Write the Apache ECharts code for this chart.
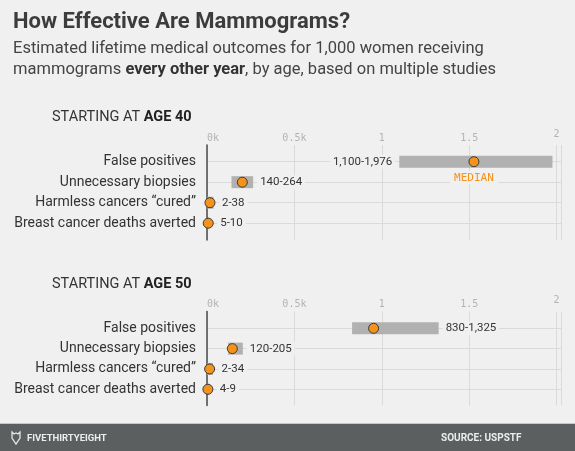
<!DOCTYPE html>
<html>
<head>
<meta charset="utf-8">
<script src="https://cdn.jsdelivr.net/npm/echarts@6/dist/echarts.min.js"></script>
<style>
  html, body { margin: 0; padding: 0; background: #f0f0f0; }
  #chart { width: 575px; height: 451px; }
</style>
</head>
<body>
<div id="chart"></div>
<script>
// data (women per 1,000)
const categories = ['False positives', 'Unnecessary biopsies', 'Harmless cancers \u201ccured\u201d', 'Breast cancer deaths averted'];
const age40Low = [1100, 140, 2, 5];
const age40High = [1976, 264, 38, 10];
const age40Median = [1527, 202, 17, 7];
const age50Low = [830, 120, 2, 4];
const age50High = [1325, 205, 34, 9];
const age50Median = [953, 145, 15, 5];
const tickLabels = { 0: '0k', 500: '0.5k', 1000: '1', 1500: '1.5', 2000: '2' };

const chart = echarts.init(document.getElementById('chart'));

const ORANGE = '#f5921b';
const BAR = '#b1b1b1';
const GRID = '#dadada';
const LEFT = 207;
const XMAX = 2025;
const WIDTH = 354; // px for 0..XMAX
const PX = WIDTH / XMAX;
const SANS = 'Roboto, "Noto Sans", sans-serif';
const MONO = '"DejaVu Sans Mono", monospace';

function fmt(v) { return v.toLocaleString('en-US'); }

// label sits right of whichever ends later: the bar or the dot
function gap(lo, hi, mid) {
  return Math.max(hi * PX, mid * PX + 5) - hi * PX + 4;
}

function panel(idx, low, high, median, leftLabelIdx, medianIdx) {
  const d = idx * 2 + 1;
  return [
    {
      type: 'bar', xAxisIndex: d, yAxisIndex: d, stack: 'r' + idx,
      data: low, itemStyle: { color: 'transparent' }, barWidth: 12, silent: true
    },
    {
      type: 'bar', xAxisIndex: d, yAxisIndex: d, stack: 'r' + idx, barWidth: 12,
      itemStyle: { color: BAR },
      data: low.map((v, i) => {
        const item = { value: high[i] - v };
        item.label = {
          show: true,
          position: i === leftLabelIdx ? 'left' : 'right',
          distance: i === leftLabelIdx ? 4 : gap(v, high[i], median[i]),
          formatter: fmt(v) + '-' + fmt(high[i]),
          color: '#333', fontFamily: SANS, fontSize: 11.5,
          backgroundColor: '#f0f0f0', padding: [1, 3]
        };
        return item;
      })
    },
    {
      type: 'scatter', xAxisIndex: d, yAxisIndex: d, symbolSize: 10, z: 5,
      itemStyle: { color: ORANGE, borderColor: '#3a3a3a', borderWidth: 1, opacity: 1 },
      data: median.map((v, i) => {
        const item = { value: [v, i] };
        if (i === medianIdx) {
          item.label = {
            show: true, position: 'bottom', distance: 4, formatter: 'MEDIAN',
            color: ORANGE, fontFamily: MONO, fontSize: 11,
            backgroundColor: '#f0f0f0', padding: [1, 4]
          };
        }
        return item;
      })
    }
  ];
}

const frames = [{ top: 145, height: 95 }, { top: 311.5, height: 94 }];
const datas = [{ top: 161.7, height: 61.5 }, { top: 328.3, height: 61 }];

const grids = [], xAxes = [], yAxes = [];
frames.forEach((fr, k) => {
  grids.push({ left: LEFT, width: WIDTH, top: fr.top, height: fr.height });
  grids.push({ left: LEFT, width: WIDTH, top: datas[k].top, height: datas[k].height });
  xAxes.push({
    gridIndex: k * 2, type: 'value', min: 0, max: XMAX, interval: 500, position: 'top',
    axisLine: { show: false }, axisTick: { show: false },
    splitLine: { show: true, lineStyle: { color: GRID, width: 1 } },
    axisLabel: {
      margin: 2, color: '#b3b3b3', fontFamily: MONO, fontSize: 10,
      alignMinLabel: 'left', showMaxLabel: false,
      formatter: v => v === 2000 ? '{hi|2}' : (tickLabels[v] || ''),
      rich: { hi: { color: '#b3b3b3', fontFamily: MONO, fontSize: 10, padding: [0, 0, 4, 0] } }
    }
  });
  xAxes.push({
    gridIndex: k * 2 + 1, type: 'value', min: 0, max: XMAX, show: false
  });
  yAxes.push({
    gridIndex: k * 2, type: 'value', min: 0, max: 1,
    axisLine: { show: true, lineStyle: { color: '#4a4a4a', width: 1.5 } },
    axisTick: { show: false }, axisLabel: { show: false }, splitLine: { show: false }
  });
  yAxes.push({
    gridIndex: k * 2 + 1, type: 'category', data: categories, inverse: true, boundaryGap: false,
    axisLine: { show: false }, axisTick: { show: false },
    splitLine: { show: true, lineStyle: { color: GRID, width: 1 } },
    axisLabel: { margin: 11, color: '#333', fontFamily: SANS, fontSize: 14 }
  });
});

chart.setOption({
  backgroundColor: '#f0f0f0',
  animation: false,
  grid: grids,
  xAxis: xAxes,
  yAxis: yAxes,
  series: [].concat(
    panel(0, age40Low, age40High, age40Median, 0, 0),
    panel(1, age50Low, age50High, age50Median, -1, -1)
  ),
  graphic: [
    {
      type: 'text', left: 13, top: 11,
      style: { text: 'How Effective Are Mammograms?', fill: '#3c3c3c', font: 'bold 22px ' + SANS }
    },
    {
      type: 'text', left: 13, top: 39,
      style: {
        text: 'Estimated lifetime medical outcomes for 1,000 women receiving\nmammograms {b|every other year}, by age, based on multiple studies',
        fill: '#444', font: '16.5px ' + SANS, lineHeight: 20.5,
        rich: { b: { fontWeight: 'bold', fontSize: 16.5, fontFamily: SANS, fill: '#333' } }
      }
    },
    {
      type: 'text', left: 52, top: 110,
      style: {
        text: 'STARTING AT {b|AGE 40}', fill: '#333', font: '14.5px ' + SANS,
        rich: { b: { fontWeight: 'bold', fontSize: 14.5, fontFamily: SANS, fill: '#222' } }
      }
    },
    {
      type: 'text', left: 52, top: 277,
      style: {
        text: 'STARTING AT {b|AGE 50}', fill: '#333', font: '14.5px ' + SANS,
        rich: { b: { fontWeight: 'bold', fontSize: 14.5, fontFamily: SANS, fill: '#222' } }
      }
    },
    { type: 'rect', shape: { x: 0, y: 423, width: 575, height: 28 }, style: { fill: '#5b5f60' } },
    { type: 'rect', shape: { x: 0, y: 423, width: 575, height: 1 }, style: { fill: '#c8c8c8' } },
    {
      type: 'polygon',
      shape: { points: [[12, 432], [14, 434], [16, 433], [18, 434], [20, 432], [20, 438], [16, 444], [12, 438]] },
      style: { fill: 'none', stroke: '#e6e6e6', lineWidth: 1.3 }
    },
    {
      type: 'text', left: 27, top: 433.5,
      style: { text: 'FIVETHIRTYEIGHT', fill: '#ececec', font: 'bold 9.5px ' + SANS }
    },
    {
      type: 'text', left: 441, top: 433.5,
      style: { text: 'SOURCE: USPSTF', fill: '#ececec', font: 'bold 10px ' + SANS }
    }
  ]
});
</script>
</body>
</html>
